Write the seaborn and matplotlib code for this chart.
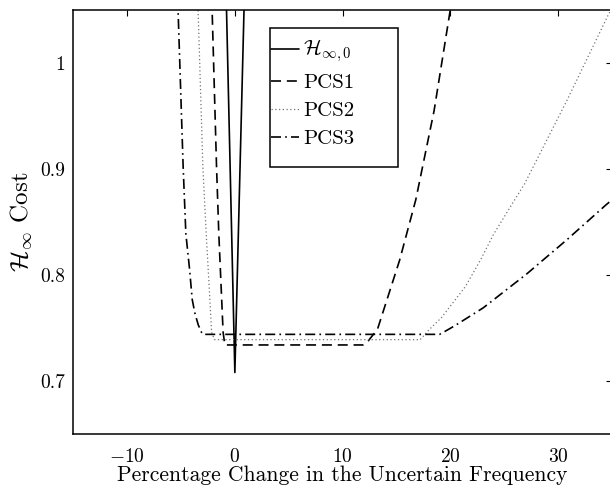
import numpy as np
import pandas as pd
import matplotlib
matplotlib.use("Agg")
import matplotlib.pyplot as plt
from matplotlib.patches import Rectangle
import seaborn as sns

# values
h0_x = [-1.0, 0.0, 1.0]
h0_cost = [1.15, 0.708, 1.11]

pcs1_x = [-2.4, -2.1, -1.7, -1.49, -1.09, -0.93, 11.9, 12.4, 13.25, 15.3, 16.8, 18.5, 20.0, 20.4]
pcs1_cost = [1.13, 1.046, 0.902, 0.839, 0.746, 0.734, 0.734, 0.738, 0.749, 0.814, 0.871, 0.955, 1.05, 1.08]

pcs2_x = [-3.6, -3.4, -2.97, -2.66, -2.32, -2.16, -1.9, 17.2, 18.1, 19.2, 21.4, 22.8, 24.0, 25.2, 26.9, 30.8, 34.7, 35.5]
pcs2_cost = [1.10, 1.046, 0.902, 0.839, 0.777, 0.746, 0.739, 0.739, 0.749, 0.760, 0.789, 0.814, 0.838, 0.858, 0.886, 0.964, 1.046, 1.06]

pcs3_x = [-5.4, -5.26, -4.8, -4.55, -4.2, -3.96, -3.71, -3.4, -3.1, -2.97, 19.0, 19.2, 20.4, 23.06, 27.1, 30.8, 34.5, 35.5]
pcs3_cost = [1.10, 1.046, 0.902, 0.839, 0.805, 0.777, 0.764, 0.753, 0.746, 0.744, 0.744, 0.745, 0.752, 0.769, 0.801, 0.833, 0.8665, 0.875]

x_ticks = [-10, 0, 10, 20, 30]
y_ticks = [0.7, 0.8, 0.9, 1.0]
y_tick_labels = ["0.7", "0.8", "0.9", "1"]

sns.set_theme(style="white")
plt.rcParams["font.family"] = ["cmr10", "DejaVu Serif"]
plt.rcParams["mathtext.fontset"] = "cm"
plt.rcParams["axes.formatter.use_mathtext"] = True
plt.rcParams["axes.unicode_minus"] = True

fig = plt.figure(figsize=(6.1, 4.93), dpi=100)
ax = fig.add_axes([73.3 / 610, 59 / 493, 538.5 / 610, 424 / 493])

sns.lineplot(x=h0_x, y=h0_cost, ax=ax, color="black", lw=1.2, sort=False,
             estimator=None, label=r"$\mathcal{H}_{\infty,0}$")
sns.lineplot(x=pcs1_x, y=pcs1_cost, ax=ax, color="black", lw=1.2, sort=False,
             estimator=None, linestyle=(0, (6, 3.5)), label="PCS1")
sns.lineplot(x=pcs2_x, y=pcs2_cost, ax=ax, color="0.45", lw=0.9, sort=False,
             estimator=None, linestyle=(0, (1, 2)), label="PCS2")
sns.lineplot(x=pcs3_x, y=pcs3_cost, ax=ax, color="black", lw=1.2, sort=False,
             estimator=None, linestyle=(0, (6, 2.5, 1, 2.5)), label="PCS3")

ax.set_xlim(-15, 35)
ax.set_ylim(0.65, 1.05)
ax.set_xticks(x_ticks)
ax.set_yticks(y_ticks)
ax.set_yticklabels(y_tick_labels)
ax.tick_params(direction="in", length=4, width=0.8, color="black",
               top=True, right=True, labelsize=14, labelcolor="black")
ax.tick_params(axis="x", pad=10)
ax.tick_params(axis="y", pad=6)
for s in ax.spines.values():
    s.set_color("black")
    s.set_linewidth(1.1)

ax.set_xlabel("Percentage Change in the Uncertain Frequency", fontsize=15.5,
              color="black", labelpad=0)
ax.set_ylabel(r"$\mathcal{H}_\infty$ Cost", fontsize=18, color="black", labelpad=4)

# legend box like the original (frame larger than its entries)
ax.add_patch(Rectangle((0.365, 0.630), 0.2385, 0.3275, transform=ax.transAxes,
                       fill=False, edgecolor="black", lw=1.1, zorder=5))
leg = ax.legend(loc="upper left", bbox_to_anchor=(0.367, 0.935), frameon=False,
                borderpad=0, borderaxespad=0, fontsize=15, handlelength=1.35,
                handletextpad=0.2, labelspacing=0.45)
for t in leg.get_texts():
    t.set_color("black")

fig.savefig("out.png", dpi=100)
